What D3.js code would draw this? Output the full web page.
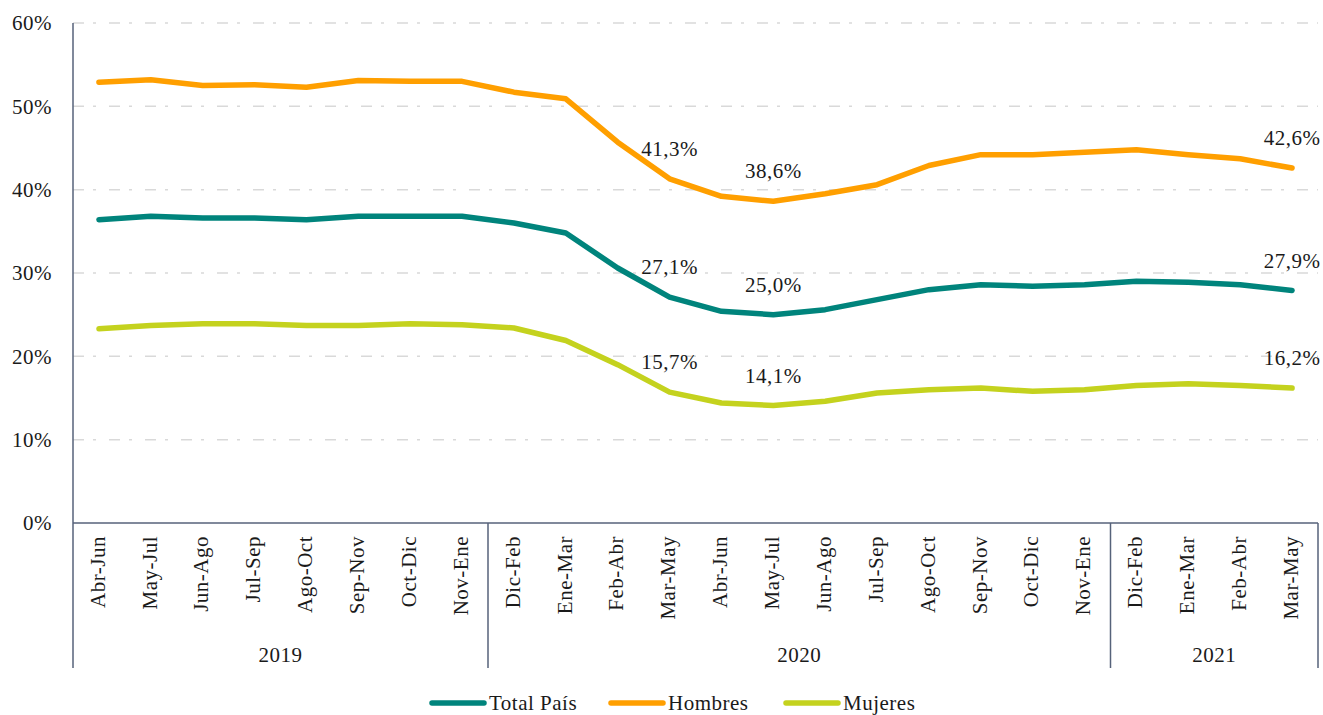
<!DOCTYPE html>
<html>
<head>
<meta charset="utf-8">
<script src="https://cdn.jsdelivr.net/npm/d3@7"></script>
<style>
  html, body { margin: 0; padding: 0; background: #fff; }
  svg { display: block; }
</style>
</head>
<body>
<svg id="chart" width="1323" height="715"></svg>
<script>
// ---- DATA ----
const categories = ["Abr-Jun","May-Jul","Jun-Ago","Jul-Sep","Ago-Oct","Sep-Nov","Oct-Dic","Nov-Ene",
  "Dic-Feb","Ene-Mar","Feb-Abr","Mar-May","Abr-Jun","May-Jul","Jun-Ago","Jul-Sep","Ago-Oct","Sep-Nov","Oct-Dic","Nov-Ene",
  "Dic-Feb","Ene-Mar","Feb-Abr","Mar-May"];
const years = ["2019","2020","2021"];
const yearCounts = [8, 12, 4];
const totalPais = [36.4,36.8,36.6,36.6,36.4,36.8,36.8,36.8,36.0,34.8,30.6,27.1,25.4,25.0,25.6,26.8,28.0,28.6,28.4,28.6,29.0,28.9,28.6,27.9];
const hombres   = [52.9,53.2,52.5,52.6,52.3,53.1,53.0,53.0,51.7,50.9,45.7,41.3,39.2,38.6,39.5,40.6,42.9,44.2,44.2,44.5,44.8,44.2,43.7,42.6];
const mujeres   = [23.3,23.7,23.9,23.9,23.7,23.7,23.9,23.8,23.4,21.9,19.0,15.7,14.4,14.1,14.6,15.6,16.0,16.2,15.8,16.0,16.5,16.7,16.5,16.2];
const seriesNames = ["Total País","Hombres","Mujeres"];
const yTicks = [0,10,20,30,40,50,60];
const labelIdx = [11, 13, 23]; // data-labelled points

// ---- STYLE / LAYOUT ----
const colors = ["#00847C","#FF9F00","#C4D21E"];
const M = {left: 73, right: 1318, top: 23, bottom: 523, yearBottom: 668};
const axisColor = "#56627A";
const FONT = "'Liberation Serif', Tinos, 'DejaVu Serif', 'Noto Serif', serif";
const fs = 21;

const svg = d3.select("#chart").attr("font-family", FONT);
const seriesData = [totalPais, hombres, mujeres];

function styleText(sel) {
  return sel.attr("font-family", null)
    .style("font-family", FONT)
    .style("font-size", fs + "px")
    .style("letter-spacing", "0.5px")
    .style("fill", "#1a1a1a");
}

const x = d3.scalePoint().domain(d3.range(categories.length)).range([M.left, M.right]).padding(0.5);
const y = d3.scaleLinear().domain([0, 60]).range([M.bottom, M.top]);

// grid
svg.append("g").selectAll("line").data(yTicks.filter(t => t > 0)).join("line")
  .attr("x1", M.left).attr("x2", M.right)
  .attr("y1", d => y(d)).attr("y2", d => y(d))
  .attr("stroke", "#D9D9D9").attr("stroke-width", 1.5)
  .attr("stroke-dasharray", "11,9,3,13");

// y axis
const yAxis = d3.axisLeft(y).tickValues(yTicks).tickSize(0).tickPadding(21)
  .tickFormat(d => d + "%");
const gy = svg.append("g").attr("transform", `translate(${M.left},0)`).call(yAxis);
gy.attr("font-family", null).attr("font-size", null);
gy.select(".domain").remove();
styleText(gy.selectAll("text")).attr("dy", "0.33em");

// axis lines
svg.append("line").attr("x1", M.left).attr("x2", M.left).attr("y1", M.top).attr("y2", M.yearBottom)
  .attr("stroke", axisColor).attr("stroke-width", 1.5);
svg.append("line").attr("x1", M.left).attr("x2", M.right).attr("y1", M.bottom).attr("y2", M.bottom)
  .attr("stroke", axisColor).attr("stroke-width", 1.5);

// year separators
const step = x.step();
let cum = 0;
const bounds = [M.left];
yearCounts.forEach(c => { cum += c; bounds.push(M.left + cum * step); });
svg.append("g").selectAll("line").data(bounds.slice(1)).join("line")
  .attr("x1", d => d).attr("x2", d => d).attr("y1", M.bottom).attr("y2", M.yearBottom)
  .attr("stroke", axisColor).attr("stroke-width", 1.5);

// category labels
const xAxis = d3.axisBottom(x).tickSize(0).tickFormat(i => categories[i]);
const gx = svg.append("g").attr("transform", `translate(0,${M.bottom})`).call(xAxis);
gx.attr("font-family", null).attr("font-size", null);
gx.select(".domain").remove();
styleText(gx.selectAll(".tick text"))
  .attr("text-anchor", "end")
  .attr("transform", "rotate(-90)")
  .attr("x", -13).attr("y", 0).attr("dy", "0.25em");

// year labels
styleText(svg.append("g").selectAll("text").data(years).join("text"))
  .attr("x", (d, i) => (bounds[i] + bounds[i + 1]) / 2)
  .attr("y", 662)
  .attr("text-anchor", "middle")
  .text(d => d);

// lines
const line = d3.line().x((d, i) => x(i)).y(d => y(d));
svg.append("g").selectAll("path").data(seriesData).join("path")
  .attr("d", d => line(d))
  .attr("fill", "none")
  .attr("stroke", (d, i) => colors[i])
  .attr("stroke-width", 5.5)
  .attr("stroke-linejoin", "round")
  .attr("stroke-linecap", "round");

// data labels
const fmt = v => v.toFixed(1).replace(".", ",") + "%";
const labels = [];
seriesData.forEach((s, si) => labelIdx.forEach(i => labels.push({si, i, v: s[i]})));
styleText(svg.append("g").selectAll("text").data(labels).join("text"))
  .attr("x", d => x(d.i))
  .attr("y", d => y(d.v) - 23)
  .attr("text-anchor", "middle")
  .text(d => fmt(d.v));

// legend
const legendX = [430, 609, 784];
const lg = svg.append("g").selectAll("g").data(seriesNames).join("g")
  .attr("transform", (d, i) => `translate(${legendX[i]},703)`);
lg.append("line").attr("x1", 2).attr("x2", 54).attr("y1", 0).attr("y2", 0)
  .attr("stroke", (d, i) => colors[i]).attr("stroke-width", 5.5).attr("stroke-linecap", "round");
styleText(lg.append("text")).attr("x", 59).attr("y", 0).attr("dy", "0.33em").text(d => d);
</script>
</body>
</html>
